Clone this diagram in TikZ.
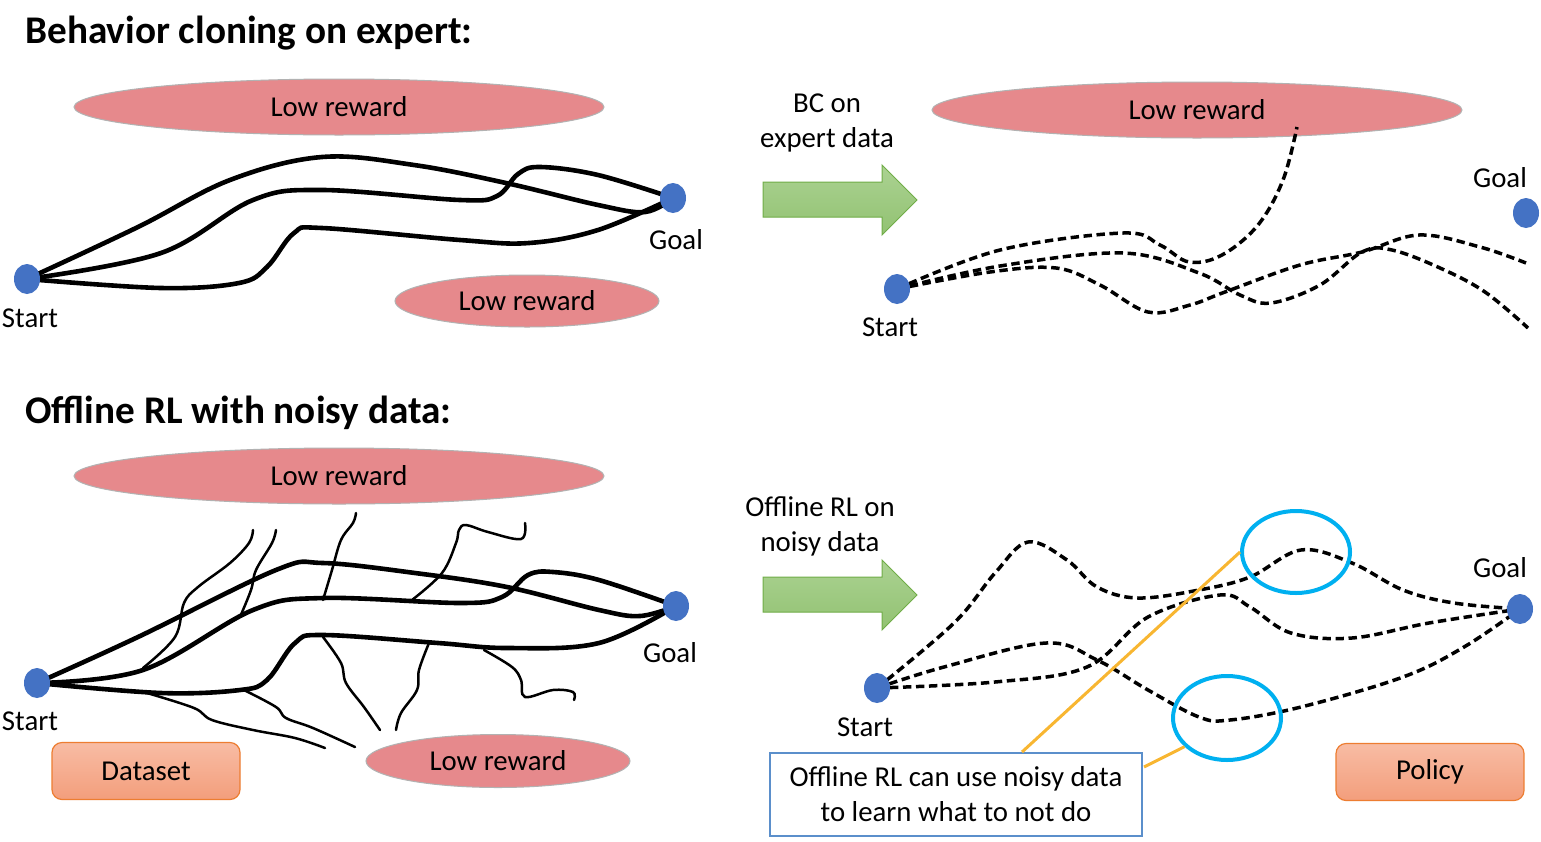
\documentclass[tikz,border=0pt]{standalone}
\usepackage{fontspec}
\setmainfont{Carlito}
\usetikzlibrary{shapes.geometric}
\definecolor{dotblue}{HTML}{4472C4}
\definecolor{rewred}{HTML}{E6898C}
\definecolor{ringblue}{HTML}{00B0F0}
\definecolor{callout}{HTML}{F8B631}
\definecolor{noteedge}{HTML}{5B8FCB}
\definecolor{boxedge}{HTML}{ED7D31}
\definecolor{boxtop}{HTML}{F8BCA4}
\definecolor{boxbot}{HTML}{F39E7C}
\definecolor{arrowedge}{HTML}{70AD47}
\definecolor{arrowtop}{HTML}{ABD292}
\definecolor{arrowbot}{HTML}{92C272}

\begin{document}
\begin{tikzpicture}[x=0.5pt, y=-0.5pt, font=\fontsize{14.4}{17.5}\selectfont,
  dot/.style={ellipse, fill=dotblue, minimum width=13pt, minimum height=15pt, inner sep=0pt},
  lowrew/.style={ellipse, draw=gray!60, line width=0.5pt, fill=rewred, inner sep=0pt, minimum height=28pt},
  headline/.style={anchor=west, inner sep=0pt, font=\fontsize{19.6}{23}\selectfont\bfseries},
  traj/.style={line width=2.3pt, line cap=round},
  dtraj/.style={line width=1.75pt, dash pattern=on 4.2pt off 2.3pt},
  noise/.style={line width=1.25pt, line cap=round},
  ring/.style={ellipse, draw=ringblue, line width=2pt, minimum width=54pt, minimum height=41pt, inner sep=0pt},
  setbox/.style={draw=boxedge, line width=0.6pt, rounded corners=5pt, top color=boxtop, bottom color=boxbot, minimum width=94pt, minimum height=28.5pt},
  bigarrow/.style={draw=arrowedge, line width=0.5pt, top color=arrowtop, bottom color=arrowbot}]
\path[fill=white, use as bounding box] (0,0) rectangle (1541,841);

\node[headline] (t1) at (25,33) {Behavior cloning on expert:};
\node[headline] (t2) at (25,413) {Offline RL with noisy data:};

\node[lowrew, minimum width=265pt] (r1) at (339,107) {Low reward};
\node[lowrew, minimum width=132pt, minimum height=26pt] (r2) at (527,301) {Low reward};
\node[lowrew, minimum width=265pt] (r3) at (1197,110) {Low reward};
\node[lowrew, minimum width=265pt] (r4) at (339,476) {Low reward};
\node[lowrew, minimum width=132pt, minimum height=26.5pt] (r5) at (498,761) {Low reward};

\coordinate (s1) at (27,279); \coordinate (g1) at (673,198);
\draw[traj] plot[smooth, tension=0.6] coordinates {(s1) (138,227) (230,180) (322,157) (414,165) (506,183) (598,205) (645,212) (g1)};
\draw[traj] plot[smooth, tension=0.6] coordinates {(s1) (161,253) (253,200) (322,190) (460,200) (497,196) (518,174) (540,167) (598,175) (g1)};
\draw[traj] plot[smooth, tension=0.6] coordinates {(s1) (161,288) (239,283) (267,267) (294,233) (322,228) (460,240) (529,243) (598,230) (g1)};
\node[dot] (start1) at (s1) {}; \node[dot] (goal1) at (g1) {};
\node (start1l) at (30,318) {Start};
\node (goal1l) at (676,240) {Goal};

\path[bigarrow] (763,182) -- (882,182) -- (882,165) -- (917,200) -- (882,235) -- (882,217) -- (763,217) -- cycle;
\node[align=center] (bcl) at (827,123) {BC on\\expert data};

\coordinate (s2) at (897,289); \coordinate (g2) at (1526,213);
\draw[dtraj] plot[smooth, tension=0.6] coordinates {(s2) (1000,250) (1123,233) (1160,245) (1189,262) (1222,255) (1258,225) (1283,180) (1297,127)};
\draw[dtraj] plot[smooth, tension=0.6] coordinates {(s2) (1000,266) (1123,253) (1199,273) (1240,295) (1271,303) (1320,285) (1362,252) (1392,250) (1440,268) (1485,292) (1528,328)};
\draw[dtraj] plot[smooth, tension=0.6] coordinates {(s2) (990,272) (1056,268) (1100,285) (1148,312) (1190,305) (1225,292) (1300,265) (1362,252) (1419,235) (1480,247) (1526,263)};
\node[dot] (start2) at (s2) {}; \node[dot] (goal2) at (g2) {};
\node (start2l) at (890,327) {Start};
\node (goal2l) at (1500,178) {Goal};

\coordinate (s3) at (37,683); \coordinate (g3) at (676,606);
\draw[traj] plot[smooth, tension=0.6] coordinates {(s3) (138,637) (276,570) (323,563) (415,573) (507,587) (599,610) (640,616) (g3)};
\draw[traj] plot[smooth, tension=0.6] coordinates {(s3) (143,670) (253,610) (323,598) (461,603) (502,597) (528,575) (553,572) (599,580) (g3)};
\draw[traj] plot[smooth, tension=0.6] coordinates {(s3) (161,693) (240,690) (267,680) (295,643) (323,635) (438,643) (507,648) (599,643) (g3)};
\draw[noise] plot[smooth, tension=0.6] coordinates {(143,668) (175,637) (184,603) (198,587) (230,563) (249,543) (253,530)};
\draw[noise] plot[smooth, tension=0.6] coordinates {(240,617) (251,590) (256,570) (272,543) (276,530)};
\draw[noise] plot[smooth, tension=0.6] coordinates {(323,600) (332,570) (341,540) (353,523) (356,513)};
\draw[noise] plot[smooth, tension=0.6] coordinates {(412,600) (442,573) (456,543) (459,530) (466,525) (488,532) (521,539) (525,523)};
\draw[noise] plot[smooth, tension=0.6] coordinates {(323,637) (341,663) (346,683) (364,707) (380,730)};
\draw[noise] plot[smooth, tension=0.6] coordinates {(429,643) (419,670) (417,690) (401,713) (396,730)};
\draw[noise] plot[smooth, tension=0.6] coordinates {(484,650) (512,667) (521,680) (525,697) (553,690) (573,692) (574,700)};
\draw[noise] plot[smooth, tension=0.6] coordinates {(147,693) (194,708) (212,720) (253,730) (295,738) (325,748)};
\draw[noise] plot[smooth, tension=0.6] coordinates {(244,690) (276,707) (286,718) (313,728) (355,747)};
\node[dot] (start3) at (s3) {}; \node[dot] (goal3) at (g3) {};
\node (start3l) at (30,721) {Start};
\node (goal3l) at (670,653) {Goal};
\node[setbox] (dataset) at (146,771) {Dataset};

\path[bigarrow] (763,577) -- (882,577) -- (882,560) -- (917,595) -- (882,630) -- (882,612) -- (763,612) -- cycle;
\node[align=center] (orll) at (820,526) {Offline RL on\\noisy data};

\coordinate (s4) at (877,688); \coordinate (g4) at (1520,609);
\draw[dtraj] plot[smooth, tension=0.6] coordinates {(s4) (954,623) (995,573) (1028,542) (1067,560) (1097,587) (1138,598) (1199,590) (1250,577) (1301,550) (1352,563) (1403,590) (1454,603) (g4)};
\draw[dtraj] plot[smooth, tension=0.6] coordinates {(s4) (944,667) (1046,643) (1097,660) (1148,690) (1199,717) (1230,720) (1301,707) (1403,677) (1464,647) (g4)};
\draw[dtraj] plot[smooth, tension=0.6] coordinates {(s4) (995,682) (1087,667) (1148,617) (1220,595) (1250,607) (1291,633) (1352,638) (1429,623) (g4)};
\node[dot] (start4) at (s4) {}; \node[dot] (goal4) at (g4) {};
\node (start4l) at (865,727) {Start};
\node (goal4l) at (1500,568) {Goal};
\node[setbox] (policy) at (1430,772) {Policy};

\node[ring] (ringup) at (1296,552) {};
\node[ring, minimum height=42pt] (ringlow) at (1227,718) {};
\node[draw=noteedge, line width=1pt, fill=white, align=center, minimum width=186pt, minimum height=41.5pt, inner sep=0pt] (note) at (956,794) {Offline RL can use noisy data\\to learn what to not do};
\coordinate (c1) at (1022,752); \coordinate (c2) at (1144,767);
\draw[callout, line width=1.5pt] (c1) -- (ringup.west);
\draw[callout, line width=1.5pt] (c2) -- (ringlow.214);
\end{tikzpicture}
\end{document}
